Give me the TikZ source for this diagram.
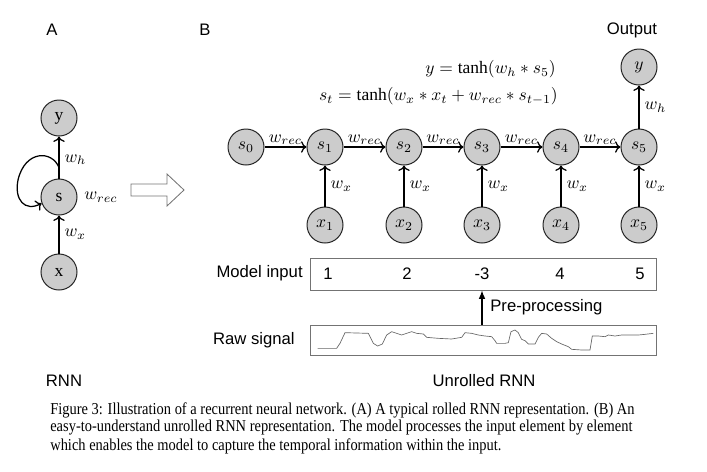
\RequirePackage{fix-cm}
\documentclass[tikz,border=0pt]{standalone}
\usepackage{fontspec}
\setmainfont{Liberation Serif}
\setsansfont{Liberation Sans}
\usetikzlibrary{arrows.meta,calc}
\newcommand{\mathsz}{\fontsize{10.5pt}{12.6pt}\selectfont}
\begin{document}
\begin{tikzpicture}[x=0.6pt,y=-0.6pt,
  unit/.style={circle,draw=black!85,fill=black!20,line width=0.6pt,minimum size=21.6pt,inner sep=0pt,font=\mathsz},
  conn/.style={->,line width=0.75pt},
  lab/.style={font=\sffamily},
  wlab/.style={inner sep=1pt,font=\mathsz},
  capline/.style={anchor=west,inner sep=0pt,font=\rmfamily}]
\useasboundingbox (0,0) rectangle (707,471);
% Panel labels
\node[lab] (pA) at (52,30) {A};
\node[lab] (pB) at (205,30) {B};
\node[lab] (pOut) at (632,30) {Output};
\node[lab] (pRNN) at (64,381) {RNN};
\node[lab] (pURNN) at (484,381) {Unrolled RNN};
% Rolled RNN
\node[unit] (ly) at (59,118) {$\mathrm{y}$};
\node[unit] (ls) at (59,197) {$\mathrm{s}$};
\node[unit] (lx) at (59,272) {$\mathrm{x}$};
\draw[conn] (lx) -- node[wlab,right,xshift=2pt]{$w_x$} (ls);
\draw[conn] (ls) -- node[wlab,right,pos=0.45,xshift=2pt]{$w_h$} (ly);
\coordinate (lstart) at ($(ls.north)+(0,-11)$);
\draw[->,line width=0.75pt] (lstart) .. controls (52,150) and (25,150) .. (18,180) .. controls (14,200) and (25,212) .. (ls.200);
\node[wlab] (lwrec) at (101,197) {$w_{rec}$};
% Hollow arrow
\draw[draw=black!55,line width=0.5pt] (131,184) -- (167,184) -- (167,174) -- (184,190) -- (167,206) -- (167,196) -- (131,196) -- cycle;
% Unrolled RNN
\node[unit] (s0) at (246,147) {$s_0$};
\foreach \i/\xx in {1/325,2/404,3/482,4/561,5/639}{
  \node[unit] (s\i) at (\xx,147) {$s_{\i}$};
  \node[unit] (x\i) at (\xx,225) {$x_{\i}$};
  \draw[conn] (x\i) -- node[wlab,right,xshift=2pt]{$w_x$} (s\i);
}
\foreach \a/\b in {0/1,1/2,2/3,3/4,4/5}{
  \draw[conn] (s\a) -- node[wlab,above]{$w_{rec}$} (s\b);
}
\node[unit] (yo) at (639,67) {$y$};
\draw[conn] (s5) -- node[wlab,right,xshift=2pt]{$w_h$} (yo);
\node[anchor=east,inner sep=0pt,font=\mathsz] (eq1) at (556,69) {$y=\tanh(w_h * s_5)$};
\node[anchor=east,inner sep=0pt,font=\mathsz] (eq2) at (558,96) {$s_t=\tanh(w_x * x_t + w_{rec} * s_{t-1})$};
% Model input
\node[draw=black!55,line width=0.5pt,minimum width=346*0.6pt,minimum height=32*0.6pt,inner sep=0pt] (mbox) at (483,274) {};
\node[lab,anchor=east,inner sep=0pt] (mlab) at (303,273) {Model input};
\node[lab] (n1) at (328,274) {1};
\node[lab] (n2) at (407,274) {2};
\node[lab] (n3) at (482,274) {-3};
\node[lab] (n4) at (560,274) {4};
\node[lab] (n5) at (640,274) {5};
% Raw signal
\node[draw=black!55,line width=0.5pt,minimum width=346*0.6pt,minimum height=30*0.6pt,inner sep=0pt] (rbox) at (483,340) {};
\node[lab,anchor=east,inner sep=0pt] (rlab) at (295,340) {Raw signal};
\draw[-{Latex[length=5pt,width=4pt]},line width=0.75pt] (rbox.north -| n3) -- (mbox.south -| n3);
\node[lab,anchor=west,inner sep=0pt] (pre) at (490,307) {Pre-processing};
\draw[black!60,line width=0.4pt,shift={(305,320)},x=0.2pt,y=-0.2pt]
 (38,85)--(95,85)--(105,70)--(120,38)--(190,40)--(205,70)--(218,78)--(232,72)--(245,45)--(260,35)--(275,40)--(290,45)--(305,40)--(320,35)--(335,40)--(355,42)--(365,52)--(400,55)--(440,57)--(470,52)--(480,38)--(500,40)--(520,45)--(540,48)--(560,50)--(570,62)--(575,70)--(600,70)--(610,68)--(618,35)--(630,30)--(640,38)--(650,58)--(660,62)--(670,72)--(690,72)--(700,52)--(710,40)--(725,42)--(740,55)--(755,65)--(770,72)--(790,80)--(800,88)--(830,90)--(855,90)--(862,48)--(880,48)--(900,50)--(910,45)--(930,48)--(950,45)--(980,45)--(1000,45)--(1020,43)--(1045,40);
% Caption
\node[capline] (c1) at (50,410) {\scalebox{0.867}[1]{Figure 3: Illustration of a recurrent neural network. (A) A typical rolled RNN representation. (B) An}};
\node[capline] (c2) at (50,428) {\scalebox{0.867}[1]{easy-to-understand unrolled RNN representation. The model processes the input element by element}};
\node[capline] (c3) at (50,446) {\scalebox{0.867}[1]{which enables the model to capture the temporal information within the input.}};
\end{tikzpicture}
\end{document}
